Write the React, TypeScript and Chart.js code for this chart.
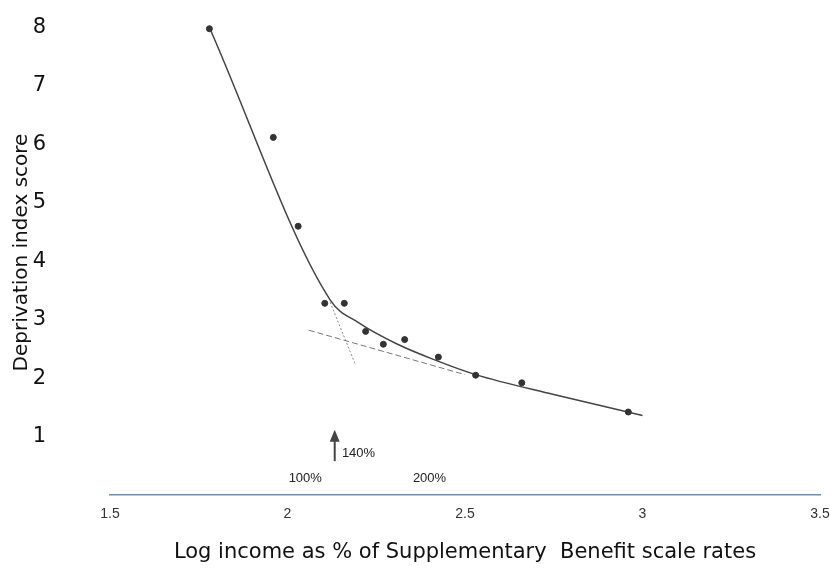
import React, { useEffect, useRef } from "react";
import Chart from "chart.js/auto";

const obsX = [1.78, 1.96, 2.03, 2.105, 2.16, 2.22, 2.27, 2.33, 2.425, 2.53, 2.66, 2.96];
const obsY = [7.98, 6.12, 4.6, 3.28, 3.28, 2.8, 2.58, 2.66, 2.36, 2.05, 1.92, 1.42];
const fitX = [1.78, 2.12, 2.2, 2.31, 2.42, 2.53, 2.75, 3.0];
const fitY = [8.0, 3.34, 2.95, 2.58, 2.3, 2.06, 1.72, 1.36];
const dashX = [2.06, 2.5];
const dashY = [2.82, 2.06];
const dotX = [2.12, 2.19];
const dotY = [3.3, 2.25];
const arrowX = [2.133, 2.133];
const arrowY = [0.58, 1.05];
const yTicks = [1, 2, 3, 4, 5, 6, 7, 8];
const xTicks = [1.5, 2, 2.5, 3, 3.5];
const notes = [
  { x: 2.2, y: 0.72, text: "140%" },
  { x: 2.05, y: 0.28, text: "100%" },
  { x: 2.4, y: 0.28, text: "200%" },
];

const toXY = (xs: number[], ys: number[]) => xs.map((x, i) => ({ x, y: ys[i] }));

export default function App() {
  const ref = useRef<HTMLCanvasElement>(null);
  useEffect(() => {
    const notesPlugin = {
      id: "notes",
      afterDatasetsDraw(chart: any) {
        const { ctx, scales } = chart;
        ctx.save();
        ctx.fillStyle = "#222";
        ctx.font = "13px Arial, 'Liberation Sans'";
        ctx.textAlign = "center";
        ctx.textBaseline = "middle";
        notes.forEach((n) => ctx.fillText(n.text, scales.x.getPixelForValue(n.x), scales.y.getPixelForValue(n.y)));
        const ax = scales.x.getPixelForValue(arrowX[1]);
        const ay = scales.y.getPixelForValue(arrowY[1]);
        ctx.fillStyle = "#444";
        ctx.beginPath();
        ctx.moveTo(ax, ay - 4);
        ctx.lineTo(ax - 5, ay + 8);
        ctx.lineTo(ax + 5, ay + 8);
        ctx.closePath();
        ctx.fill();
        ctx.restore();
      },
    };
    const chart = new Chart(ref.current!, {
      type: "scatter",
      data: {
        datasets: [
          { data: toXY(obsX, obsY), pointRadius: 3, backgroundColor: "#333", borderColor: "#333", showLine: false },
          { data: toXY(fitX, fitY), showLine: true, borderColor: "#444", borderWidth: 1.5, pointRadius: 0, tension: 0.3, cubicInterpolationMode: "monotone" },
          { data: toXY(dashX, dashY), showLine: true, borderColor: "#777", borderWidth: 1, borderDash: [6, 3], pointRadius: 0 },
          { data: toXY(dotX, dotY), showLine: true, borderColor: "#888", borderWidth: 1, borderDash: [2, 2], pointRadius: 0 },
          { data: toXY(arrowX, arrowY), showLine: true, borderColor: "#444", borderWidth: 2, pointRadius: 0 },
        ],
      },
      options: {
        animation: false,
        responsive: false,
        layout: { padding: { right: 10, top: 0 } },
        plugins: { legend: { display: false }, tooltip: { enabled: false } },
        scales: {
          x: {
            type: "linear",
            min: 1.5,
            max: 3.5,
            afterFit: (s: any) => { s.height = 74; s.paddingLeft = 0; s.paddingRight = 10; },
            afterBuildTicks: (s: any) => { s.ticks = xTicks.map((v) => ({ value: v })); },
            ticks: { color: "#333", font: { size: 14, family: "Arial, 'Liberation Sans'" }, callback: (v: any) => String(Number(v)) },
            grid: { display: false },
            border: { color: "#6f8db5", width: 1.5 },
            title: { display: true, text: "Log income as % of Supplementary  Benefit scale rates", color: "#111", font: { size: 21, family: "'DejaVu Sans'" }, padding: { top: 16 } },
          },
          y: {
            type: "linear",
            min: 0,
            max: 8.3,
            afterFit: (s: any) => { s.width = 110; s.paddingTop = 10; s.paddingBottom = 0; },
            afterBuildTicks: (s: any) => { s.ticks = yTicks.map((v) => ({ value: v })); },
            ticks: { color: "#111", padding: 56, font: { size: 21, family: "'DejaVu Sans'" } },
            grid: { display: false },
            border: { display: false },
            title: { display: true, text: "Deprivation index score", color: "#111", font: { size: 20, family: "'DejaVu Sans'" }, padding: { bottom: 0, top: 10 } },
          },
        },
      },
      plugins: [notesPlugin],
    });
    return () => chart.destroy();
  }, []);
  return (
    <div style={{ position: "fixed", left: 0, top: 0, width: 830, height: 569, background: "#fff" }}>
      <canvas ref={ref} width={830} height={569} />
    </div>
  );
}
